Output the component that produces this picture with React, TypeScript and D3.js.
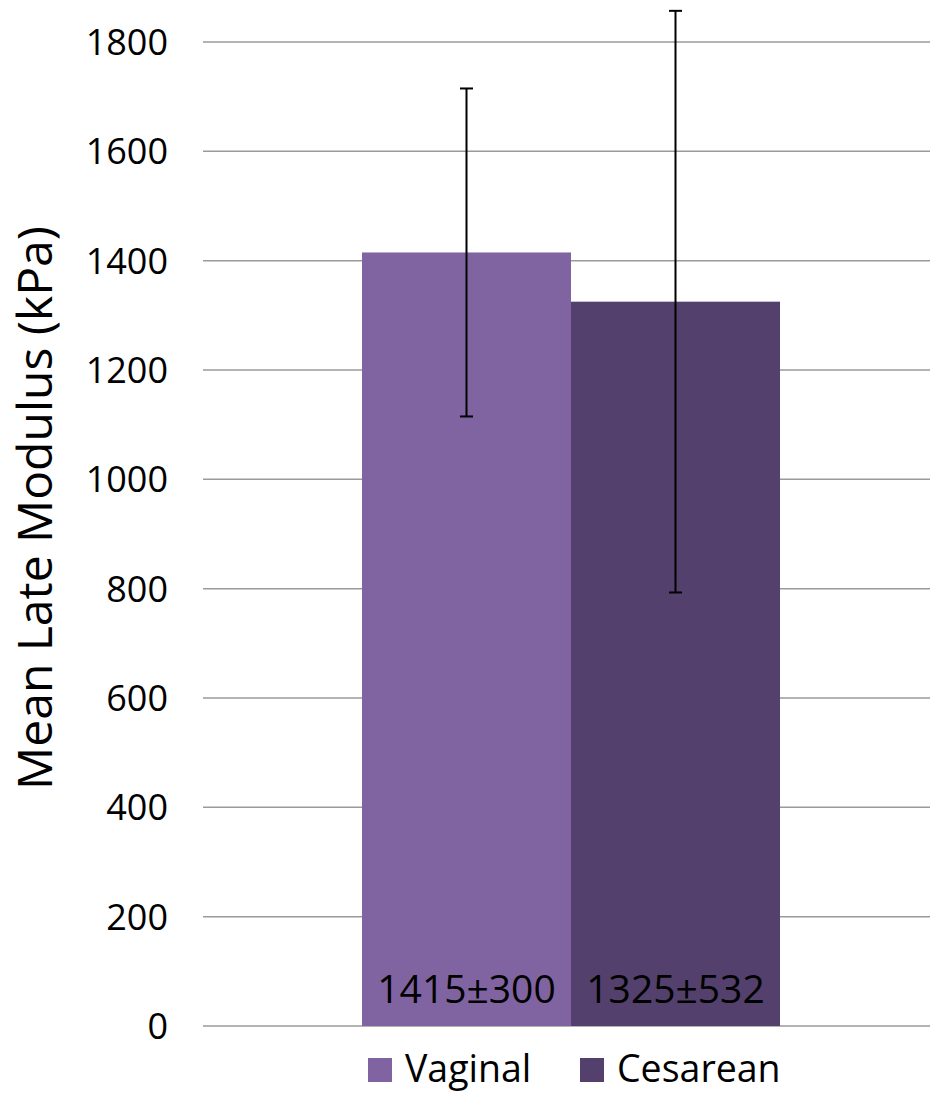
import React from "react";
import * as d3 from "d3";

const categories = ["Vaginal", "Cesarean"];
const means = [1415, 1325];
const errors = [300, 532];
const labels = ["1415±300", "1325±532"];
const yTicks = [0, 200, 400, 600, 800, 1000, 1200, 1400, 1600, 1800];
const colors = ["#8064A2", "#53406C"];

const W = 930;
const H = 1094;
const FONT = "'Open Sans', 'Liberation Sans', sans-serif";

export default function App() {
  const y = d3.scaleLinear().domain([0, 1800]).range([1026, 42]);
  const x = d3.scaleBand<string>().domain(categories).range([362, 780]).paddingInner(0).paddingOuter(0);
  const capHalf = 6.5;

  return (
    <svg width={W} height={H} style={{ position: "absolute", left: 0, top: 0, background: "#fff" }}>
      {yTicks.map((t) => (
        <g key={t}>
          <line x1={203} x2={930} y1={y(t)} y2={y(t)} stroke="#9a9a9a" strokeWidth={1.5} />
          <text x={168} y={y(t)} dy="0.36em" textAnchor="end" fontFamily={FONT} fontSize={36} fill="#000">
            {t}
          </text>
        </g>
      ))}
      {categories.map((c, i) => (
        <rect key={c} x={x(c)} y={y(means[i])} width={x.bandwidth()} height={y(0) - y(means[i])} fill={colors[i]} />
      ))}
      {categories.map((c, i) => {
        const cx = (x(c) as number) + x.bandwidth() / 2;
        const top = y(means[i] + errors[i]);
        const bot = y(means[i] - errors[i]);
        return (
          <g key={c + "e"} stroke="#000" strokeWidth={2}>
            <line x1={cx} x2={cx} y1={top} y2={bot} />
            <line x1={cx - capHalf} x2={cx + capHalf} y1={top} y2={top} />
            <line x1={cx - capHalf} x2={cx + capHalf} y1={bot} y2={bot} />
          </g>
        );
      })}
      {categories.map((c, i) => (
        <text
          key={c + "l"}
          x={(x(c) as number) + x.bandwidth() / 2}
          y={1003}
          textAnchor="middle"
          fontFamily={FONT}
          fontSize={39}
          fill="#000"
        >
          {labels[i]}
        </text>
      ))}
      <text
        transform={`translate(52,508) rotate(-90)`}
        textAnchor="middle"
        fontFamily={FONT}
        fontSize={48}
        fill="#000"
      >
        Mean Late Modulus (kPa)
      </text>
      {categories.map((c, i) => {
        const lx = [368, 580][i];
        return (
          <g key={c + "lg"}>
            <rect x={lx} y={1058} width={24} height={24} fill={colors[i]} />
            <text x={lx + 37} y={1082} fontFamily={FONT} fontSize={37.5} fill="#000">
              {c}
            </text>
          </g>
        );
      })}
    </svg>
  );
}
